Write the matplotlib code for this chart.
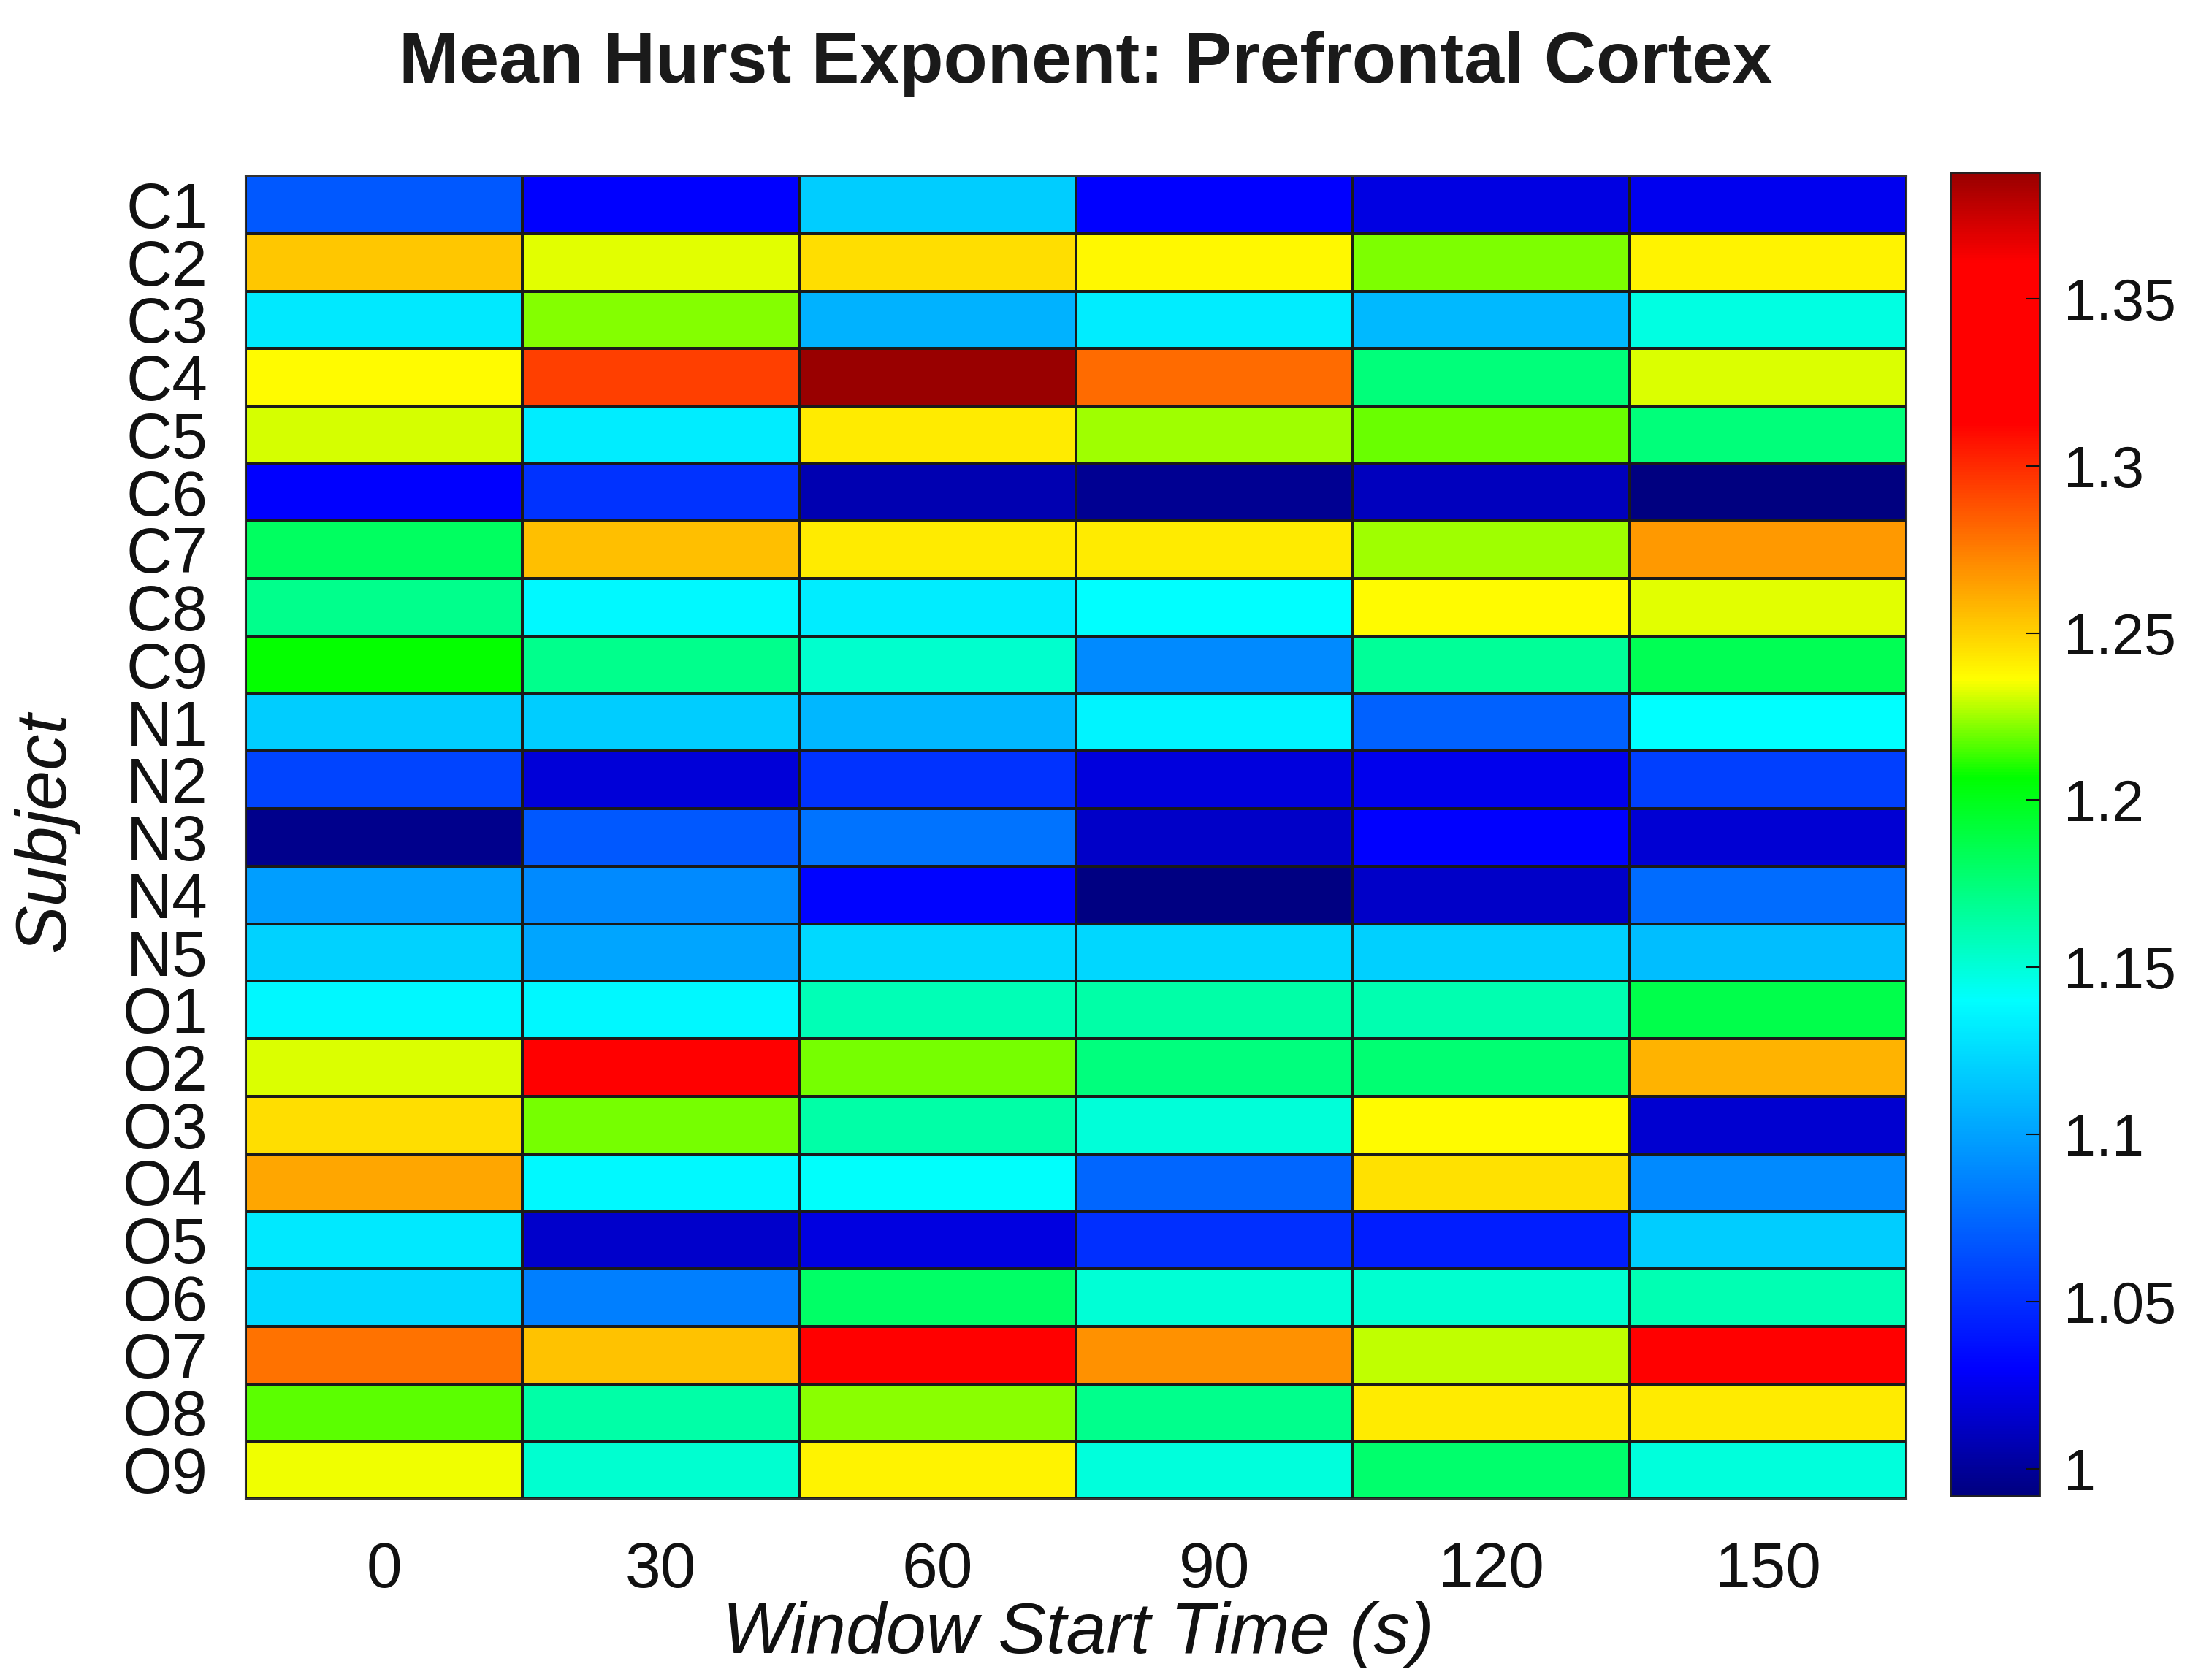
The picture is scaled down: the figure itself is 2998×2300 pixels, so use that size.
import numpy as np
import matplotlib
matplotlib.use("Agg")
import matplotlib.pyplot as plt
from matplotlib.colors import LinearSegmentedColormap

plt.rcParams['font.family'] = ['Liberation Sans', 'DejaVu Sans']

subjects = ["C1", "C2", "C3", "C4", "C5", "C6", "C7", "C8", "C9",
            "N1", "N2", "N3", "N4", "N5",
            "O1", "O2", "O3", "O4", "O5", "O6", "O7", "O8", "O9"]
window_starts = [0, 30, 60, 90, 120, 150]

hurst_t0   = [1.068, 1.253, 1.131, 1.237, 1.231, 1.030, 1.182, 1.170, 1.207,
              1.118, 1.060, 0.996, 1.098, 1.121,
              1.137, 1.232, 1.246, 1.263, 1.131, 1.1235, 1.278, 1.217, 1.234]
hurst_t30  = [1.030, 1.2325, 1.222, 1.294, 1.132, 1.052, 1.255, 1.138, 1.170,
              1.118, 1.019, 1.068, 1.090, 1.101,
              1.137, 1.330, 1.220, 1.138, 1.015, 1.085, 1.254, 1.163, 1.152]
hurst_t60  = [1.118, 1.246, 1.107, 1.3877, 1.242, 1.007, 1.242, 1.132, 1.153,
              1.109, 1.052, 1.080, 1.032, 1.1235,
              1.159, 1.220, 1.163, 1.141, 1.021, 1.180, 1.330, 1.223, 1.240]
hurst_t90  = [1.030, 1.238, 1.132, 1.281, 1.225, 0.998, 1.242, 1.140, 1.090,
              1.135, 1.020, 1.014, 0.993, 1.123,
              1.163, 1.174, 1.150, 1.074, 1.050, 1.151, 1.269, 1.170, 1.149]
hurst_t120 = [1.022, 1.221, 1.110, 1.175, 1.219, 1.011, 1.225, 1.237, 1.167,
              1.072, 1.025, 1.030, 1.014, 1.120,
              1.161, 1.177, 1.237, 1.245, 1.043, 1.152, 1.229, 1.242, 1.179]
hurst_t150 = [1.026, 1.240, 1.148, 1.232, 1.175, 0.992, 1.267, 1.233, 1.185,
              1.140, 1.057, 1.017, 1.077, 1.112,
              1.187, 1.259, 1.016, 1.090, 1.118, 1.160, 1.325, 1.242, 1.149]

data = np.column_stack([hurst_t0, hurst_t30, hurst_t60, hurst_t90, hurst_t120, hurst_t150])
vmin, vmax = data.min(), data.max()

cmap_nodes = [0.0, 0.096, 0.374, 0.543, 0.617, 0.811, 0.933, 1.0]
cmap_cols = [(0, 0, 0.5), (0, 0, 1), (0, 1, 1), (0, 1, 0), (1, 1, 0),
             (1, 0, 0), (1, 0, 0), (0.6, 0, 0)]
cmap = LinearSegmentedColormap.from_list("hjet", list(zip(cmap_nodes, cmap_cols)), N=512)

fig = plt.figure(figsize=(29.98, 23), dpi=100)
ax = fig.add_axes([0.1121, 0.1078, 0.7585, 0.7874])

step = window_starts[1] - window_starts[0]
xedges = np.append(np.array(window_starts) - step / 2, window_starts[-1] + step / 2)
yedges = np.arange(len(subjects) + 1) - 0.5
mesh = ax.pcolormesh(xedges, yedges, data, cmap=cmap, vmin=vmin, vmax=vmax,
                     edgecolors=(0.1, 0.1, 0.1), linewidth=1.5)
ax.set_xlim(xedges[0], xedges[-1])
ax.set_ylim(yedges[-1], yedges[0])
ax.set_xticks(window_starts)
ax.set_xticklabels([str(w) for w in window_starts])
ax.set_yticks(np.arange(len(subjects)))
ax.set_yticklabels(subjects)
ax.tick_params(axis='x', length=0, pad=42, labelsize=63, colors='#111111')
ax.tick_params(axis='y', length=0, pad=37, labelsize=63, colors='#111111')
for s in ax.spines.values():
    s.set_color('#333333')
    s.set_linewidth(1.5)

cax = fig.add_axes([0.8906, 0.1096, 0.0407, 0.7878])
cb = fig.colorbar(mesh, cax=cax)
cb.set_ticks([1.0, 1.05, 1.1, 1.15, 1.2, 1.25, 1.3, 1.35])
cb.set_ticklabels(["1", "1.05", "1.1", "1.15", "1.2", "1.25", "1.3", "1.35"])
cax.tick_params(direction='in', length=13, width=1.5, pad=24, labelsize=57,
                colors='#111111')
cb.outline.set_edgecolor('#222222')
cb.outline.set_linewidth(2)

fig.text(0.4957, 0.9509, "Mean Hurst Exponent: Prefrontal Cortex", ha='center',
         va='baseline', fontsize=71, fontweight='bold', color='#1a1a1a')
fig.text(0.4923, 0.0161, "Window Start Time (s)", ha='center', va='baseline',
         fontsize=71, fontstyle='italic', color='#111111')
fig.text(0.021, 0.505, "Subject", ha='center', va='center', rotation=90,
         fontsize=71, fontstyle='italic', color='#111111')

fig.savefig("out.png", dpi=100, facecolor='white')
